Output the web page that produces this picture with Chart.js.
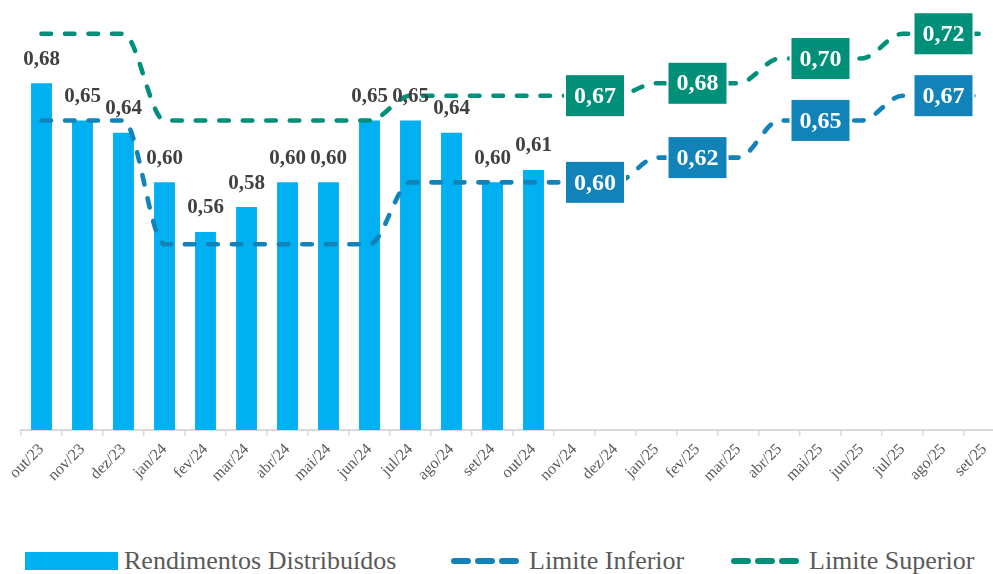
<!DOCTYPE html>
<html lang="pt">
<head>
<meta charset="utf-8">
<script src="https://cdn.jsdelivr.net/npm/chart.js@4.4.1/dist/chart.umd.min.js"></script>
<style>
  html, body { margin: 0; padding: 0; background: #fff; }
  #wrap { position: relative; width: 993px; height: 574px; overflow: hidden; }
  #grafico { position: absolute; left: 0; top: 0; }
  .leg { position: absolute; top: 546px; height: 30px; display: flex; align-items: center;
         font-family: "Liberation Serif", serif; font-size: 26px; color: #595959; white-space: nowrap; }
  .leg .caixa { width: 93px; height: 18px; background: #00B0F0; margin-right: 6px; }
  .leg svg { margin-right: 10px; }
</style>
</head>
<body>
<div id="wrap">
  <canvas id="grafico" width="1006" height="530"></canvas>
  <div class="leg" style="left:25px"><span class="caixa"></span>Rendimentos Distribuídos</div>
  <div class="leg" style="left:451px">
    <svg width="68" height="8"><line x1="3" y1="4" x2="65" y2="4" stroke="#1283B9" stroke-width="6" stroke-linecap="round" stroke-dasharray="14 10"/></svg>Limite Inferior</div>
  <div class="leg" style="left:731px">
    <svg width="68" height="8"><line x1="3" y1="4" x2="65" y2="4" stroke="#00907A" stroke-width="6" stroke-linecap="round" stroke-dasharray="14 10"/></svg>Limite Superior</div>
</div>

<script>
// === DADOS ===
const meses = ["out/23", "nov/23", "dez/23", "jan/24", "fev/24", "mar/24", "abr/24", "mai/24",
  "jun/24", "jul/24", "ago/24", "set/24", "out/24", "nov/24", "dez/24", "jan/25", "fev/25",
  "mar/25", "abr/25", "mai/25", "jun/25", "jul/25", "ago/25", "set/25"];

const rendimentos = [0.68, 0.65, 0.64, 0.60, 0.56, 0.58, 0.60, 0.60, 0.65, 0.65, 0.64, 0.60, 0.61];

const limiteInferior = [0.65, 0.65, 0.65, 0.55, 0.55, 0.55, 0.55, 0.55, 0.55, 0.60, 0.60, 0.60,
  0.60, 0.60, 0.60, 0.62, 0.62, 0.62, 0.65, 0.65, 0.65, 0.67, 0.67, 0.67];

const limiteSuperior = [0.72, 0.72, 0.72, 0.65, 0.65, 0.65, 0.65, 0.65, 0.65, 0.67, 0.67, 0.67,
  0.67, 0.67, 0.67, 0.68, 0.68, 0.68, 0.70, 0.70, 0.70, 0.72, 0.72, 0.72];

// onde ficam as caixinhas dos limites (posição no eixo x, em meses)
const posRotulosLimite = [13.5, 16, 19, 22];

const corBarra = "#00B0F0";
const corInferior = "#1283B9";
const corSuperior = "#00907A";

const fmt = v => v.toFixed(2).replace(".", ",");

// Rótulos: valores das barras + caixas nas linhas
const rotulos = {
  id: "rotulos",
  afterDatasetsDraw(chart) {
    const ctx = chart.ctx;
    const x = chart.scales.x, y = chart.scales.y;
    ctx.save();
    ctx.textAlign = "center";
    ctx.textBaseline = "middle";

    ctx.font = 'bold 21px "Liberation Serif"';
    ctx.fillStyle = "#404040";
    rendimentos.forEach((v, i) => {
      ctx.fillText(fmt(v), x.getPixelForValue(i), y.getPixelForValue(v) - 24);
    });

    function caixa(pos, v, cor) {
      const px = x.getPixelForValue(pos);
      const py = y.getPixelForValue(v);
      ctx.fillStyle = "#ffffff";
      ctx.fillRect(px - 31, py - 22.5, 62, 45);
      ctx.fillStyle = cor;
      ctx.fillRect(px - 29, py - 20.5, 58, 41);
      ctx.fillStyle = "#ffffff";
      ctx.font = 'bold 24px "Liberation Serif"';
      ctx.fillText(fmt(v), px, py + 1);
    }
    posRotulosLimite.forEach(p => {
      const i = Math.floor(p);
      caixa(p, limiteSuperior[i], corSuperior);
      caixa(p, limiteInferior[i], corInferior);
    });
    ctx.restore();
  }
};

const linha = (label, data, cor) => ({
  type: "line",
  label,
  data,
  borderColor: cor,
  backgroundColor: cor,
  borderWidth: 4.6,
  borderDash: [9.5, 14],
  borderCapStyle: "round",
  borderJoinStyle: "round",
  cubicInterpolationMode: "monotone",
  pointRadius: 0,
  fill: false,
  order: 1
});

new Chart(document.getElementById("grafico"), {
  type: "bar",
  data: {
    labels: meses,
    datasets: [
      {
        label: "Rendimentos Distribuídos",
        data: rendimentos,
        backgroundColor: corBarra,
        barPercentage: 0.51,
        categoryPercentage: 1,
        order: 3
      },
      linha("Limite Inferior", limiteInferior, corInferior),
      linha("Limite Superior", limiteSuperior, corSuperior)
    ]
  },
  options: {
    responsive: false,
    animation: false,
    layout: { padding: { left: 21, top: 9, right: 1, bottom: 0 } },
    plugins: { legend: { display: false }, tooltip: { enabled: false } },
    scales: {
      x: {
        offset: true,
        grid: { drawOnChartArea: false, color: "#D9D9D9", lineWidth: 1.5, tickLength: 6, offset: true },
        border: { color: "#D9D9D9", width: 2 },
        ticks: {
          autoSkip: false, maxRotation: 45, minRotation: 45, padding: 4,
          color: "#595959", font: { family: "Liberation Serif", size: 16 }
        },
        afterFit(s) { s.height = 100; }
      },
      y: { display: false, min: 0.40, max: 0.74 }
    }
  },
  plugins: [rotulos]
});
</script>
</body>
</html>
